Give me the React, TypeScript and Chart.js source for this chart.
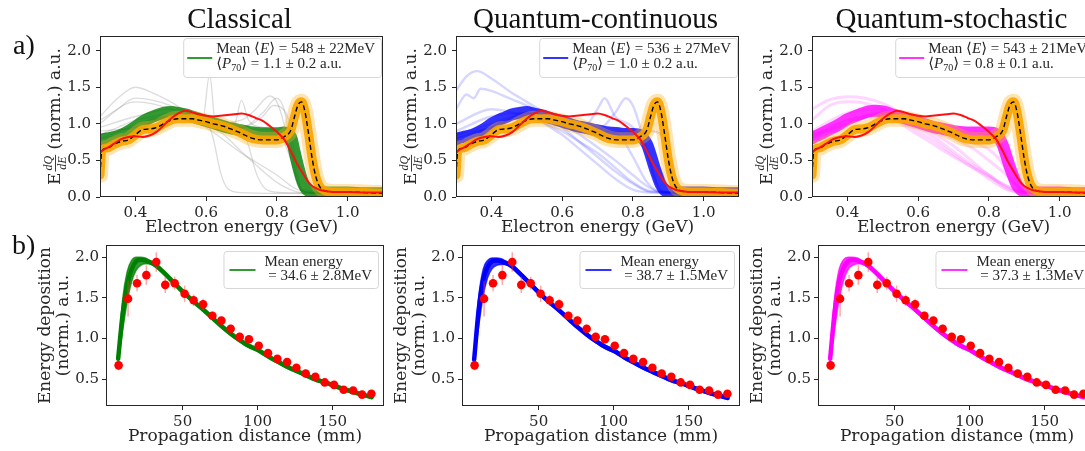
import { useEffect, useRef } from 'react';
import { Chart, registerables } from 'chart.js';

Chart.register(...registerables);

// ---------------- data ----------------
const modelTitles = ['Classical', 'Quantum-continuous', 'Quantum-stochastic'];
const meanEnergyText = ['548 ± 22', '536 ± 27', '543 ± 21'];
const p70Text = ['1.1 ± 0.2', '1.0 ± 0.2', '0.8 ± 0.1'];
const depEnergyText = ['34.6 ± 2.8', '38.7 ± 1.5', '37.3 ± 1.3'];

const energyTicks = [0.4, 0.6, 0.8, 1.0];
const spectrumTicks = [0, 0.5, 1.0, 1.5, 2.0];
const distanceTicks = [50, 100, 150];
const depositionTicks = [0.5, 1.0, 1.5, 2.0];

// electron spectra (GeV)
const energyGeV = [0.30, 0.305, 0.32, 0.34, 0.36, 0.38, 0.40, 0.42, 0.44, 0.46, 0.48, 0.50, 0.52, 0.54, 0.56, 0.58, 0.60, 0.62, 0.64, 0.66, 0.68, 0.70, 0.72, 0.74, 0.76, 0.78, 0.80, 0.82, 0.84, 0.85, 0.86, 0.87, 0.88, 0.89, 0.90, 0.91, 0.92, 0.94, 0.96, 0.98, 1.00, 1.05, 1.10];
const meanSpectrum = [0.30, 0.63, 0.67, 0.72, 0.76, 0.78, 0.85, 0.92, 0.93, 0.95, 1.00, 1.05, 1.07, 1.07, 1.07, 1.05, 1.03, 1.00, 0.98, 0.95, 0.91, 0.87, 0.82, 0.79, 0.78, 0.78, 0.78, 0.82, 0.92, 1.10, 1.26, 1.30, 1.15, 0.85, 0.52, 0.28, 0.15, 0.08, 0.07, 0.07, 0.07, 0.06, 0.05];
const expSpectrum = [0.60, 0.63, 0.67, 0.73, 0.79, 0.82, 0.83, 0.82, 0.84, 0.89, 0.98, 1.07, 1.14, 1.18, 1.16, 1.13, 1.11, 1.10, 1.11, 1.12, 1.13, 1.14, 1.12, 1.08, 1.04, 0.97, 0.89, 0.79, 0.62, 0.52, 0.43, 0.35, 0.27, 0.20, 0.15, 0.12, 0.10, 0.08, 0.07, 0.07, 0.07, 0.06, 0.06];
const classicalCore = [0.75, 0.78, 0.80, 0.82, 0.85, 0.90, 0.96, 1.03, 1.08, 1.12, 1.15, 1.16, 1.15, 1.13, 1.10, 1.07, 1.04, 1.01, 0.98, 0.95, 0.93, 0.91, 0.89, 0.88, 0.87, 0.87, 0.87, 0.88, 0.82, 0.62, 0.42, 0.25, 0.13, 0.08, 0.07, 0.06, 0.06, 0.06, 0.06, 0.06, 0.06, 0.05, 0.05];
const continuousCore = [0.78, 0.80, 0.82, 0.84, 0.88, 0.93, 1.00, 1.05, 1.09, 1.13, 1.15, 1.16, 1.14, 1.12, 1.09, 1.06, 1.03, 1.00, 0.97, 0.95, 0.93, 0.91, 0.89, 0.88, 0.87, 0.86, 0.86, 0.84, 0.72, 0.58, 0.42, 0.28, 0.16, 0.09, 0.07, 0.06, 0.06, 0.06, 0.06, 0.06, 0.06, 0.05, 0.05];
const stochasticCore = [0.80, 0.82, 0.85, 0.90, 0.95, 1.00, 1.06, 1.10, 1.14, 1.17, 1.18, 1.17, 1.14, 1.11, 1.08, 1.05, 1.02, 0.99, 0.96, 0.94, 0.92, 0.90, 0.89, 0.88, 0.88, 0.88, 0.88, 0.86, 0.70, 0.55, 0.40, 0.27, 0.16, 0.10, 0.07, 0.06, 0.06, 0.06, 0.06, 0.06, 0.06, 0.05, 0.05];

// individual outlying simulation runs: [energies, values]
const classicalRuns: [number[], number[]][] = [
  [[0.30, 0.35, 0.40, 0.45, 0.50, 0.55, 0.60, 0.65, 0.70, 0.75, 0.80, 0.85, 0.90, 1.0, 1.1], [1.10, 1.35, 1.50, 1.42, 1.30, 1.15, 1.00, 0.85, 0.62, 0.40, 0.20, 0.08, 0.05, 0.05, 0.05]],
  [[0.30, 0.35, 0.40, 0.45, 0.50, 0.55, 0.60, 0.62, 0.64, 0.66, 0.70, 0.80, 1.10], [1.00, 1.20, 1.35, 1.32, 1.25, 1.15, 1.05, 0.80, 0.35, 0.12, 0.06, 0.05, 0.05]],
  [[0.30, 0.35, 0.40, 0.45, 0.50, 0.55, 0.59, 0.61, 0.625, 0.64, 0.66, 0.70, 0.75, 0.80, 0.84, 0.86, 0.88, 0.90, 1.10], [0.85, 0.95, 1.05, 1.10, 1.15, 1.10, 1.05, 1.68, 1.05, 1.00, 0.98, 0.95, 0.92, 0.90, 0.50, 0.15, 0.07, 0.06, 0.05]],
  [[0.30, 0.40, 0.50, 0.60, 0.70, 0.74, 0.78, 0.80, 0.82, 0.84, 0.86, 0.88, 0.90, 1.10], [0.80, 0.90, 1.10, 1.00, 1.05, 1.20, 1.38, 1.30, 1.00, 0.50, 0.15, 0.07, 0.06, 0.05]],
  [[0.30, 0.40, 0.50, 0.60, 0.70, 0.76, 0.80, 0.82, 0.84, 0.86, 0.88, 1.10], [0.85, 0.95, 1.10, 1.00, 0.95, 1.15, 1.35, 1.20, 0.70, 0.20, 0.07, 0.05]],
  [[0.30, 0.40, 0.50, 0.60, 0.68, 0.70, 0.72, 0.76, 0.80, 0.84, 0.86, 0.88, 1.10], [0.90, 0.95, 1.10, 1.00, 1.00, 1.32, 1.05, 0.95, 0.90, 0.60, 0.20, 0.07, 0.05]],
  [[0.30, 0.40, 0.50, 0.60, 0.70, 0.72, 0.74, 0.76, 0.78, 0.82, 1.10], [0.95, 1.10, 1.20, 1.05, 0.95, 0.70, 0.35, 0.15, 0.08, 0.06, 0.05]],
  [[0.30, 0.40, 0.50, 0.60, 0.70, 0.80, 0.85, 0.90, 1.10], [1.05, 1.30, 1.20, 0.95, 0.60, 0.30, 0.12, 0.06, 0.05]],
  [[0.30, 0.50, 0.70, 0.76, 0.79, 0.83, 0.85, 0.87, 1.10], [0.80, 1.10, 0.95, 1.10, 1.25, 1.10, 0.60, 0.10, 0.05]],
];
const continuousRuns: [number[], number[]][] = [
  [[0.30, 0.33, 0.36, 0.40, 0.45, 0.50, 0.55, 0.60, 0.65, 0.70, 0.75, 0.80, 0.85, 0.90, 1.10], [1.45, 1.65, 1.72, 1.62, 1.45, 1.30, 1.15, 1.00, 0.85, 0.68, 0.50, 0.30, 0.12, 0.06, 0.05]],
  [[0.30, 0.33, 0.35, 0.37, 0.40, 0.45, 0.50, 0.55, 0.60, 0.65, 0.70, 0.75, 0.80, 0.85, 1.10], [1.20, 1.40, 1.35, 1.48, 1.45, 1.35, 1.25, 1.10, 0.95, 0.75, 0.55, 0.35, 0.18, 0.07, 0.05]],
  [[0.30, 0.40, 0.50, 0.55, 0.60, 0.65, 0.70, 0.75, 0.80, 0.85, 1.10], [0.90, 1.10, 1.15, 1.00, 0.85, 0.65, 0.45, 0.25, 0.10, 0.06, 0.05]],
  [[0.30, 0.40, 0.50, 0.60, 0.65, 0.70, 0.75, 0.80, 0.85, 1.10], [1.00, 1.20, 1.10, 0.90, 0.75, 0.60, 0.40, 0.20, 0.08, 0.05]],
  [[0.30, 0.40, 0.50, 0.60, 0.66, 0.70, 0.72, 0.75, 0.80, 0.84, 0.87, 0.90, 1.10], [0.85, 0.95, 1.10, 1.00, 0.95, 1.20, 1.35, 1.10, 0.95, 0.60, 0.15, 0.06, 0.05]],
  [[0.30, 0.40, 0.50, 0.60, 0.70, 0.75, 0.78, 0.80, 0.83, 0.86, 0.88, 1.10], [0.80, 0.95, 1.12, 1.00, 0.92, 1.15, 1.35, 1.25, 0.80, 0.30, 0.08, 0.05]],
  [[0.30, 0.40, 0.50, 0.60, 0.70, 0.80, 0.85, 0.88, 0.90, 0.92, 0.94, 1.10], [0.80, 0.95, 1.15, 1.05, 0.92, 0.88, 0.90, 0.85, 0.60, 0.20, 0.07, 0.05]],
  [[0.30, 0.40, 0.50, 0.60, 0.70, 0.76, 0.80, 0.84, 0.88, 1.10], [0.85, 1.00, 1.15, 1.00, 0.90, 0.85, 0.55, 0.20, 0.06, 0.05]],
];
const stochasticRuns: [number[], number[]][] = [
  [[0.30, 0.35, 0.40, 0.45, 0.50, 0.55, 0.60, 0.65, 0.70, 0.75, 0.80, 0.85, 0.90, 1.10], [1.20, 1.33, 1.37, 1.35, 1.28, 1.15, 1.00, 0.85, 0.70, 0.50, 0.30, 0.12, 0.06, 0.05]],
  [[0.30, 0.35, 0.40, 0.45, 0.50, 0.55, 0.60, 0.65, 0.70, 0.75, 0.80, 0.85, 0.90, 1.10], [1.05, 1.25, 1.30, 1.28, 1.20, 1.05, 0.90, 0.75, 0.58, 0.42, 0.25, 0.10, 0.06, 0.05]],
  [[0.30, 0.40, 0.50, 0.55, 0.60, 0.65, 0.70, 0.75, 0.80, 0.85, 0.90, 1.10], [0.90, 1.15, 1.20, 1.10, 0.95, 0.80, 0.62, 0.45, 0.30, 0.15, 0.07, 0.05]],
  [[0.30, 0.40, 0.50, 0.60, 0.65, 0.70, 0.75, 0.80, 0.85, 0.88, 0.90, 1.10], [0.85, 1.05, 1.15, 1.00, 0.90, 0.80, 0.68, 0.50, 0.30, 0.15, 0.08, 0.05]],
  [[0.30, 0.40, 0.50, 0.60, 0.70, 0.75, 0.80, 0.84, 0.87, 0.90, 1.10], [0.85, 1.00, 1.15, 1.00, 0.85, 0.75, 0.65, 0.45, 0.20, 0.07, 0.05]],
  [[0.30, 0.40, 0.50, 0.60, 0.70, 0.80, 0.83, 0.86, 0.88, 0.90, 1.10], [0.82, 1.00, 1.15, 1.00, 0.90, 0.85, 0.75, 0.45, 0.20, 0.07, 0.05]],
  [[0.30, 0.40, 0.50, 0.60, 0.70, 0.80, 0.85, 0.90, 1.10], [0.80, 1.05, 1.10, 0.85, 0.55, 0.28, 0.15, 0.06, 0.05]],
];

// energy deposition vs propagation distance (mm)
const depDistance = [7.3, 13.6, 19.6, 25.8, 32.4, 38.4, 44.7, 51.3, 57.3, 63.6, 69.8, 75.8, 82.0, 88.0, 94.2, 100.7, 106.9, 113.1, 119.6, 125.8, 132.0, 138.4, 144.7, 150.9, 157.3, 163.6, 169.6, 175.8];
const depMeasured = [0.67, 1.49, 1.68, 1.78, 1.94, 1.66, 1.68, 1.55, 1.47, 1.42, 1.28, 1.22, 1.12, 1.02, 0.99, 0.91, 0.82, 0.75, 0.71, 0.64, 0.57, 0.53, 0.46, 0.43, 0.37, 0.36, 0.31, 0.32];
const depError = [0.06, 0.22, 0.10, 0.12, 0.12, 0.10, 0.08, 0.10, 0.07, 0.07, 0.05, 0.05, 0.05, 0.05, 0.05, 0.04, 0.04, 0.04, 0.04, 0.04, 0.04, 0.03, 0.03, 0.03, 0.03, 0.03, 0.03, 0.03];

const simDistance = [7, 10, 13, 16, 19, 22, 25, 28, 32, 38, 45, 51, 57, 64, 70, 76, 82, 88, 94, 101, 107, 113, 120, 126, 132, 138, 145, 151, 157, 164, 170, 176];
const classicalDepHigh = [0.80, 1.48, 1.82, 1.96, 2.00, 2.00, 1.99, 1.96, 1.92, 1.82, 1.69, 1.58, 1.48, 1.37, 1.27, 1.17, 1.08, 1.00, 0.93, 0.87, 0.80, 0.74, 0.67, 0.62, 0.57, 0.52, 0.48, 0.44, 0.40, 0.36, 0.32, 0.29];
const classicalDepMean = [0.75, 1.30, 1.65, 1.85, 1.95, 1.97, 1.96, 1.94, 1.90, 1.80, 1.67, 1.56, 1.46, 1.35, 1.25, 1.15, 1.06, 0.98, 0.91, 0.85, 0.78, 0.72, 0.65, 0.60, 0.55, 0.50, 0.46, 0.42, 0.38, 0.34, 0.31, 0.28];
const classicalDepLow = [0.72, 1.10, 1.45, 1.70, 1.84, 1.90, 1.92, 1.92, 1.88, 1.78, 1.65, 1.54, 1.44, 1.33, 1.23, 1.13, 1.04, 0.96, 0.89, 0.83, 0.76, 0.70, 0.63, 0.58, 0.53, 0.48, 0.44, 0.40, 0.36, 0.32, 0.29, 0.26];
const continuousDepHigh = [0.78, 1.50, 1.85, 1.96, 1.99, 1.99, 1.98, 1.95, 1.91, 1.81, 1.68, 1.57, 1.47, 1.36, 1.26, 1.16, 1.07, 0.99, 0.92, 0.86, 0.79, 0.73, 0.66, 0.61, 0.56, 0.51, 0.47, 0.43, 0.39, 0.35, 0.31, 0.28];
const continuousDepMean = [0.74, 1.35, 1.72, 1.88, 1.95, 1.96, 1.95, 1.93, 1.89, 1.79, 1.66, 1.55, 1.45, 1.34, 1.24, 1.14, 1.05, 0.97, 0.90, 0.84, 0.77, 0.71, 0.64, 0.59, 0.54, 0.49, 0.45, 0.41, 0.37, 0.33, 0.30, 0.27];
const continuousDepLow = [0.71, 1.15, 1.52, 1.75, 1.86, 1.90, 1.91, 1.91, 1.87, 1.77, 1.64, 1.53, 1.43, 1.32, 1.22, 1.12, 1.03, 0.95, 0.88, 0.82, 0.75, 0.69, 0.62, 0.57, 0.52, 0.47, 0.43, 0.39, 0.35, 0.31, 0.28, 0.25];
const stochasticDepHigh = [0.80, 1.50, 1.85, 1.97, 2.00, 2.00, 1.99, 1.96, 1.92, 1.82, 1.69, 1.58, 1.48, 1.37, 1.27, 1.17, 1.08, 1.00, 0.93, 0.87, 0.80, 0.74, 0.67, 0.62, 0.57, 0.52, 0.48, 0.44, 0.40, 0.36, 0.32, 0.29];
const stochasticDepMean = [0.75, 1.33, 1.70, 1.87, 1.95, 1.97, 1.96, 1.94, 1.90, 1.80, 1.67, 1.56, 1.46, 1.35, 1.25, 1.15, 1.06, 0.98, 0.91, 0.85, 0.78, 0.72, 0.65, 0.60, 0.55, 0.50, 0.46, 0.42, 0.38, 0.34, 0.31, 0.28];
const stochasticDepLow = [0.72, 1.12, 1.48, 1.72, 1.85, 1.90, 1.92, 1.92, 1.88, 1.78, 1.65, 1.54, 1.44, 1.33, 1.23, 1.13, 1.04, 0.96, 0.89, 0.83, 0.76, 0.70, 0.63, 0.58, 0.53, 0.48, 0.44, 0.40, 0.36, 0.32, 0.29, 0.26];

const spectrumCores = [classicalCore, continuousCore, stochasticCore];
const spectrumRuns = [classicalRuns, continuousRuns, stochasticRuns];
const depHighs = [classicalDepHigh, continuousDepHigh, stochasticDepHigh];
const depMeans = [classicalDepMean, continuousDepMean, stochasticDepMean];
const depLows = [classicalDepLow, continuousDepLow, stochasticDepLow];

// ---------------- styles / layout ----------------
const MODEL_RGB = ['0,128,0', '0,0,255', '255,0,255'];
const LEG_FONT = '"Liberation Serif", "DejaVu Serif", serif';
const AX_FONT = '"DejaVu Serif", serif';
const INK = '#262626';
const TOP_LEFTS = [100, 456, 812];
const BOTTOM_LEFTS = [106, 462, 818];

type Piece = { t: string; italic?: boolean; sub?: boolean };
type LegendSpec = {
  lines: Piece[][];
  color: string;
  inset: number;
  boxH: number;
  textOffset: number;
  sampleX: [number, number];
  sampleY: number;
  lineY: number[];
};
type DecorSpec = {
  legend: LegendSpec;
  xLabel: string;
  yLabel: 'spectrum' | 'deposition';
  title?: string;
  letter?: { t: string; x: number; y: number };
  errors?: boolean;
};

function xy(xs: number[], ys: number[]) {
  return xs.map((x, i) => ({ x, y: ys[i] }));
}

function lineDs(xs: number[], ys: number[], color: string, width: number, order: number, extra: any = {}) {
  return {
    type: 'line',
    data: xy(xs, ys),
    borderColor: color,
    backgroundColor: color,
    borderWidth: width,
    pointRadius: 0,
    fill: false,
    cubicInterpolationMode: 'monotone',
    borderCapStyle: 'round',
    borderJoinStyle: 'round',
    order,
    ...extra,
  };
}

function pieceFont(p: Piece) {
  return `${p.italic ? 'italic ' : ''}${p.sub ? 10 : 15}px ${LEG_FONT}`;
}

function makeDecor(spec: DecorSpec) {
  return {
    id: 'decor',
    beforeDatasetDraw(chart: any, args: any) {
      if (!spec.errors || args.index !== 0) return;
      const { ctx, scales } = chart;
      ctx.save();
      ctx.strokeStyle = 'rgba(255,60,60,0.45)';
      ctx.lineWidth = 1.5;
      depDistance.forEach((d, i) => {
        const x = scales.x.getPixelForValue(d);
        ctx.beginPath();
        ctx.moveTo(x, scales.y.getPixelForValue(depMeasured[i] - depError[i]));
        ctx.lineTo(x, scales.y.getPixelForValue(depMeasured[i] + depError[i]));
        ctx.stroke();
      });
      ctx.restore();
    },
    afterDraw(chart: any) {
      const { ctx, chartArea: a } = chart;
      ctx.save();
      // frame
      ctx.strokeStyle = INK;
      ctx.lineWidth = 1;
      ctx.strokeRect(a.left + 0.5, a.top + 0.5, a.right - a.left - 1, a.bottom - a.top - 1);

      // legend
      const L = spec.legend;
      const measure = (line: Piece[]) =>
        line.reduce((w, p) => {
          ctx.font = pieceFont(p);
          return w + ctx.measureText(p.t).width;
        }, 0);
      const textW = Math.max(...L.lines.map(measure));
      const boxW = L.textOffset + textW + 6;
      const bx = a.right - L.inset - boxW;
      const by = a.top + L.inset;
      ctx.beginPath();
      if ((ctx as any).roundRect) (ctx as any).roundRect(bx + 0.5, by + 0.5, boxW, L.boxH, 3);
      else ctx.rect(bx + 0.5, by + 0.5, boxW, L.boxH);
      ctx.fillStyle = 'rgba(255,255,255,0.85)';
      ctx.fill();
      ctx.strokeStyle = '#d6d6d6';
      ctx.lineWidth = 1;
      ctx.stroke();
      ctx.strokeStyle = L.color;
      ctx.lineWidth = 1.6;
      ctx.beginPath();
      ctx.moveTo(bx + L.sampleX[0], by + L.sampleY);
      ctx.lineTo(bx + L.sampleX[1], by + L.sampleY);
      ctx.stroke();
      ctx.fillStyle = INK;
      ctx.textBaseline = 'middle';
      ctx.textAlign = 'left';
      L.lines.forEach((line, li) => {
        let cx = bx + L.textOffset;
        const cy = by + L.lineY[li];
        line.forEach((p) => {
          ctx.font = pieceFont(p);
          ctx.fillText(p.t, cx, cy + (p.sub ? 4 : 0));
          cx += ctx.measureText(p.t).width;
        });
      });

      // x label
      ctx.fillStyle = INK;
      ctx.font = `17px ${AX_FONT}`;
      ctx.textAlign = 'center';
      ctx.textBaseline = 'middle';
      ctx.fillText(spec.xLabel, (a.left + a.right) / 2, a.bottom + 31);

      // y label
      const midY = (a.top + a.bottom) / 2;
      if (spec.yLabel === 'deposition') {
        ctx.save();
        ctx.translate(a.left - 60, midY);
        ctx.rotate(-Math.PI / 2);
        ctx.fillText('Energy deposition', 0, 0);
        ctx.restore();
        ctx.save();
        ctx.translate(a.left - 42, midY);
        ctx.rotate(-Math.PI / 2);
        ctx.fillText('(norm.) a.u.', 0, 0);
        ctx.restore();
      } else {
        ctx.save();
        ctx.translate(a.left - 44, midY);
        ctx.rotate(-Math.PI / 2);
        const mainF = `17px ${AX_FONT}`;
        const fracF = `italic 12px ${LEG_FONT}`;
        ctx.font = mainF;
        const wE = ctx.measureText('E').width;
        const rest = ' (norm.) a.u.';
        const wRest = ctx.measureText(rest).width;
        ctx.font = fracF;
        const fracW = Math.max(ctx.measureText('dQ').width, ctx.measureText('dE').width) + 2;
        const total = wE + 1 + fracW + wRest;
        const x0 = -total / 2;
        ctx.textAlign = 'left';
        ctx.font = mainF;
        ctx.fillText('E', x0, 0);
        const fc = x0 + wE + 1 + fracW / 2;
        ctx.font = fracF;
        ctx.textAlign = 'center';
        ctx.fillText('dQ', fc, -7);
        ctx.fillText('dE', fc, 7);
        ctx.fillRect(fc - fracW / 2, -1, fracW, 0.9);
        ctx.textAlign = 'left';
        ctx.font = mainF;
        ctx.fillText(rest, x0 + wE + 1 + fracW, 0);
        ctx.restore();
      }

      // title
      if (spec.title) {
        ctx.fillStyle = '#111';
        ctx.font = `29px ${LEG_FONT}`;
        ctx.textAlign = 'center';
        ctx.textBaseline = 'alphabetic';
        ctx.fillText(spec.title, (a.left + a.right) / 2 - 2, 28);
      }
      if (spec.letter) {
        ctx.fillStyle = '#111';
        ctx.font = `28px ${LEG_FONT}`;
        ctx.textAlign = 'left';
        ctx.textBaseline = 'alphabetic';
        ctx.fillText(spec.letter.t, spec.letter.x, spec.letter.y);
      }
      ctx.restore();
    },
  };
}

function axis(min: number, max: number, ticks: number[], decimals: number, fitProp: 'width' | 'height', fitSize: number, pad: number) {
  return {
    type: 'linear',
    min,
    max,
    afterBuildTicks: (s: any) => {
      s.ticks = ticks.map((v) => ({ value: v }));
    },
    afterFit: (s: any) => {
      s[fitProp] = fitSize;
    },
    ticks: {
      autoSkip: false,
      maxRotation: 0,
      padding: pad,
      color: INK,
      font: { family: AX_FONT, size: 15 },
      callback: (v: any) => Number(v).toFixed(decimals),
    },
    grid: { display: true, drawOnChartArea: false, drawTicks: true, tickLength: 4, color: INK, lineWidth: 1 },
    border: { display: false },
  };
}

function topConfig(m: number): any {
  const rgb = MODEL_RGB[m];
  const runColor = m === 0 ? 'rgba(95,95,95,0.22)' : `rgba(${rgb},${m === 1 ? 0.16 : 0.16})`;
  const runWidth = m === 0 ? 1.3 : m === 1 ? 2.4 : 3;
  const datasets: any[] = [
    lineDs(energyGeV, expSpectrum, '#ff1010', 2, 0),
    lineDs(energyGeV, meanSpectrum, '#000000', 1.4, 1, { borderDash: [5, 3], borderCapStyle: 'butt' }),
    lineDs(energyGeV, meanSpectrum, 'rgba(250,165,0,0.92)', 9, 2),
    lineDs(energyGeV, meanSpectrum, 'rgba(255,175,30,0.35)', 16, 3),
    lineDs(energyGeV, spectrumCores[m], `rgba(${rgb},0.8)`, 12, 4),
    ...spectrumRuns[m].map(([xs, ys]) => lineDs(xs, ys, runColor, runWidth, 5)),
  ];
  return {
    type: 'line',
    data: { datasets },
    options: {
      animation: false,
      responsive: false,
      maintainAspectRatio: false,
      devicePixelRatio: 1,
      events: [],
      layout: { padding: { left: 0, top: 36, right: 12, bottom: 0 } },
      plugins: { legend: { display: false }, tooltip: { enabled: false } },
      scales: {
        x: axis(0.3, 1.1, energyTicks, 1, 'height', 43, 3),
        y: axis(0, 2.2, spectrumTicks, 1, 'width', 100, 5),
      },
    },
    plugins: [
      makeDecor({
        legend: {
          lines: [
            [{ t: 'Mean ⟨' }, { t: 'E', italic: true }, { t: `⟩ = ${meanEnergyText[m]}MeV` }],
            [{ t: '⟨' }, { t: 'P', italic: true }, { t: '70', sub: true }, { t: `⟩ = ${p70Text[m]} a.u.` }],
          ],
          color: `rgb(${rgb})`,
          inset: 2,
          boxH: 39,
          textOffset: 33,
          sampleX: [4, 29],
          sampleY: 20,
          lineY: [11, 26],
        },
        xLabel: 'Electron energy (GeV)',
        yLabel: 'spectrum',
        title: modelTitles[m],
        letter: m === 0 ? { t: 'a)', x: 13, y: 54 } : undefined,
      }),
    ],
  };
}

function bottomConfig(m: number): any {
  const rgb = MODEL_RGB[m];
  const datasets: any[] = [
    {
      type: 'line',
      data: xy(depDistance, depMeasured),
      showLine: false,
      pointRadius: 4.3,
      pointBackgroundColor: '#ff0000',
      pointBorderColor: '#ff0000',
      pointBorderWidth: 0,
      order: 0,
    },
    lineDs(simDistance, depMeans[m], `rgb(${rgb})`, 4.5, 1),
    lineDs(simDistance, depHighs[m], `rgba(${rgb},0.75)`, 1.5, 2),
    lineDs(simDistance, depLows[m], `rgba(${rgb},0.75)`, 1.5, 3, { fill: '-1', backgroundColor: `rgba(${rgb},0.8)` }),
  ];
  return {
    type: 'line',
    data: { datasets },
    options: {
      animation: false,
      responsive: false,
      maintainAspectRatio: false,
      devicePixelRatio: 1,
      events: [],
      layout: { padding: { left: 0, top: 20, right: 12, bottom: 0 } },
      plugins: { legend: { display: false }, tooltip: { enabled: false } },
      scales: {
        x: axis(-1.1, 184.2, distanceTicks, 0, 'height', 45, 3),
        y: axis(0.17, 2.15, depositionTicks, 1, 'width', 106, 3),
      },
    },
    plugins: [
      makeDecor({
        legend: {
          lines: [[{ t: 'Mean energy' }], [{ t: ` = ${depEnergyText[m]}MeV` }]],
          color: `rgb(${rgb})`,
          inset: 6,
          boxH: 37,
          textOffset: 41,
          sampleX: [6, 32],
          sampleY: 19,
          lineY: [11, 25],
        },
        xLabel: 'Propagation distance (mm)',
        yLabel: 'deposition',
        letter: m === 0 ? { t: 'b)', x: 12, y: 29 } : undefined,
        errors: true,
      }),
    ],
  };
}

function ChartCanvas(props: { left: number; top: number; width: number; height: number; make: () => any }) {
  const ref = useRef<HTMLCanvasElement>(null);
  useEffect(() => {
    const chart = new Chart(ref.current as HTMLCanvasElement, props.make());
    return () => chart.destroy();
  }, []);
  return (
    <canvas
      ref={ref}
      width={props.width}
      height={props.height}
      style={{ position: 'absolute', left: props.left, top: props.top, width: props.width, height: props.height }}
    />
  );
}

export default function App() {
  return (
    <div style={{ position: 'absolute', left: 0, top: 0, width: 1085, height: 451, overflow: 'hidden', background: '#fff' }}>
      {[0, 1, 2].map((m) => (
        <ChartCanvas key={'t' + m} left={TOP_LEFTS[m] - 100} top={0} width={395} height={240} make={() => topConfig(m)} />
      ))}
      {[0, 1, 2].map((m) => (
        <ChartCanvas key={'b' + m} left={BOTTOM_LEFTS[m] - 106} top={225} width={396} height={226} make={() => bottomConfig(m)} />
      ))}
    </div>
  );
}
